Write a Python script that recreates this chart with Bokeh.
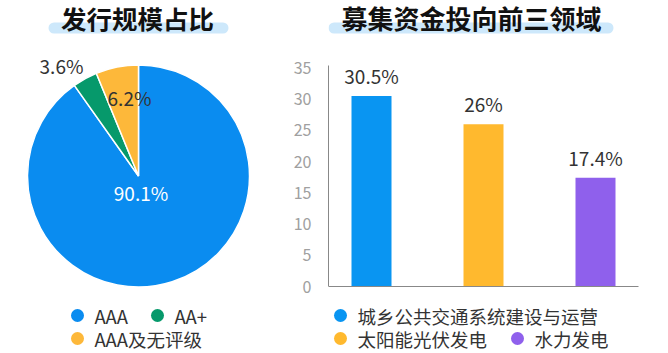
import math
from bokeh.plotting import figure
from bokeh.layouts import row
from bokeh.models import Range1d, FixedTicker, ColumnDataSource
from bokeh.core.properties import value
from bokeh.embed import file_html
from bokeh.resources import INLINE

# ---------------- data ----------------
pie_title = "发行规模占比"
pie_labels = ["AAA", "AA+", "AAA及无评级"]
pie_values = [90.1, 3.6, 6.2]
pie_colors = ["#0A8CF0", "#06996B", "#FDB83A"]

bar_title = "募集资金投向前三领域"
bar_categories = ["城乡公共交通系统建设与运营", "太阳能光伏发电", "水力发电"]
bar_values = [30.5, 26, 17.4]
bar_colors = ["#0995F2", "#FFB92E", "#8F60EC"]
y_ticks = [0, 5, 10, 15, 20, 25, 30, 35]

FONT = "Noto Sans CJK SC"
H = 353
HL = "#CDE8FB"
TXT = "#333333"

# ---------------- left: pie ----------------
LW = 280
left = figure(width=LW, height=H, x_range=Range1d(0, LW), y_range=Range1d(H, 0),
              x_axis_location=None, y_axis_location=None, toolbar_location=None,
              output_backend="svg", min_border=0)
left.grid.visible = False
left.outline_line_color = None
left.border_fill_color = "white"

# title with rounded highlight
left.segment(x0=[53.5], y0=[27.5], x1=[222.5], y1=[27.5], line_width=11,
             line_cap="round", line_color=HL)
left.text(x=[137], y=[17], text=[pie_title], text_align="center", text_baseline="middle",
          text_font=value(FONT), text_font_size="25.5px", text_font_style="bold",
          text_color="#111111")

total = sum(pie_values)
cum = [0.0]
for v in pie_values:
    cum.append(cum[-1] + v / total)
starts = [math.pi / 2 - 2 * math.pi * c for c in cum[:-1]]
ends = [math.pi / 2 - 2 * math.pi * c for c in cum[1:]]
pie_src = ColumnDataSource(dict(start=starts, end=ends, color=pie_colors, label=pie_labels))
cx, cy, r = 138, 175.5, 111
left.wedge(x=cx, y=cy, radius=r, start_angle="start", end_angle="end", direction="clock",
           fill_color="color", line_color="white", line_width=1.5, source=pie_src)

# slice labels
label_pos = [(140.5, 192, "white"), (61, 65, TXT), (129, 97, TXT)]
for (lx, ly, lc), v in zip(label_pos, pie_values):
    left.text(x=[lx], y=[ly], text=[f"{v:g}%"], text_align="center", text_baseline="middle",
              text_font=value(FONT), text_font_size="19px", text_color=lc)

# legend
leg_pos = [(77, 315), (157, 315), (77, 338)]
for (lx, ly), lab, col in zip(leg_pos, pie_labels, pie_colors):
    left.scatter(x=[lx], y=[ly], size=13, marker="circle", fill_color=col, line_color=None)
    left.text(x=[lx + 17], y=[ly], text=[lab], text_align="left", text_baseline="middle",
              text_font=value(FONT), text_font_size="18.5px", text_color=TXT)

# ---------------- right: bars ----------------
RW = 388
x0_canvas = 328          # frame left (canvas)
ppu_x = 112.0
ppu_y = (286 - 67.5) / 35.0
y_zero = 286
x_start = -43 / ppu_x
x_end = x_start + (668 - x0_canvas) / ppu_x
y_start = -(H - y_zero) / ppu_y
y_end = y_zero / ppu_y

right = figure(width=RW, height=H, x_range=Range1d(x_start, x_end),
               y_range=Range1d(y_start, y_end), x_axis_location=None, y_axis_location="left",
               toolbar_location=None, output_backend="svg",
               min_border_left=48, min_border_right=0, min_border_top=0, min_border_bottom=0)
right.extra_x_ranges = {"px": Range1d(x0_canvas, 668)}
right.extra_y_ranges = {"px": Range1d(H, 0)}
right.grid.visible = False
right.outline_line_color = None
right.border_fill_color = "white"

yax = right.yaxis[0]
yax.ticker = FixedTicker(ticks=y_ticks)
yax.bounds = (0, 35.4)
yax.axis_line_color = "#888888"
yax.axis_line_width = 1
yax.major_tick_line_color = None
yax.minor_tick_line_color = None
yax.major_label_standoff = 11
yax.major_label_text_font = FONT
yax.major_label_text_font_size = "16px"
yax.major_label_text_color = "#A0A0A0"

xs = list(range(len(bar_categories)))
bar_src = ColumnDataSource(dict(x=xs, top=bar_values, color=bar_colors,
                                lab=[f"{v:g}%" for v in bar_values], cat=bar_categories))
right.vbar(x="x", top="top", width=40 / ppu_x, fill_color="color", line_color=None, source=bar_src)
right.text(x="x", y="top", text="lab", text_align="center", text_baseline="bottom", y_offset=-7,
           text_font=value(FONT), text_font_size="19px", text_color=TXT, source=bar_src)
# baseline
right.segment(x0=[x_start], y0=[0], x1=[x_start + 310 / ppu_x], y1=[0],
              line_color="#888888", line_width=1)

# title
right.segment(x0=[333.5], y0=[27.5], x1=[607.5], y1=[27.5], line_width=11, line_cap="round",
              line_color=HL, x_range_name="px", y_range_name="px")
right.text(x=[471], y=[17], text=[bar_title], text_align="center", text_baseline="middle",
           text_font=value(FONT), text_font_size="26px", text_font_style="bold",
           text_color="#111111", x_range_name="px", y_range_name="px")

# legend
rleg = [(340, 315), (340, 338), (517, 338)]
for (lx, ly), lab, col in zip(rleg, bar_categories, bar_colors):
    right.scatter(x=[lx], y=[ly], size=13, marker="circle", fill_color=col, line_color=None,
                  x_range_name="px", y_range_name="px")
    right.text(x=[lx + 17], y=[ly], text=[lab], text_align="left", text_baseline="middle",
               text_font=value(FONT), text_font_size="18.5px", text_color=TXT,
               x_range_name="px", y_range_name="px")

layout = row(left, right, spacing=0)
open("out.html", "w").write(file_html(layout, INLINE))
